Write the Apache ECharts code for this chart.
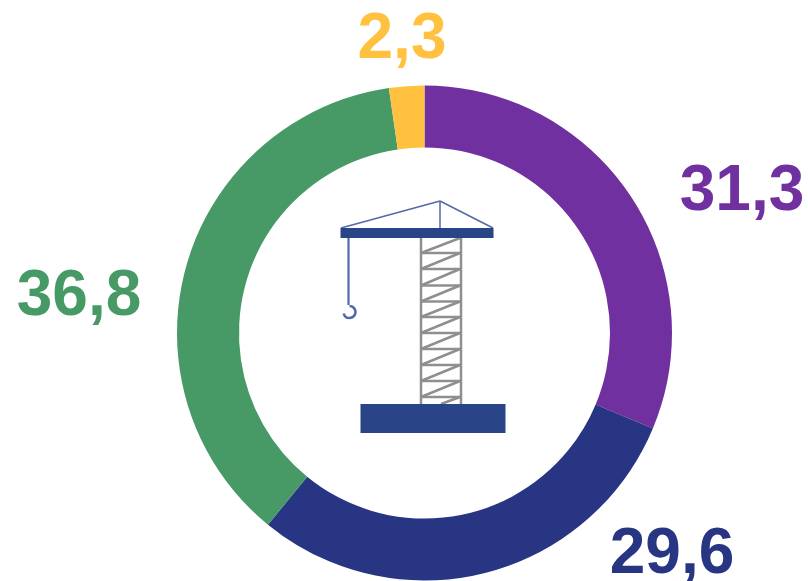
<!DOCTYPE html>
<html>
<head>
    <meta charset="utf-8">
    <title>Donut</title>
    <style>
        html, body { margin: 0; padding: 0; background: #fff; }
        #chart { width: 808px; height: 581px; }
    </style>
</head>
<body>
    <div id="chart"></div>
    <script src="https://cdn.jsdelivr.net/npm/echarts@6/dist/echarts.min.js"></script>
    <script type="text/javascript">
        var sliceValues = [31.3, 29.6, 36.8, 2.3];
        var sliceLabels = ['31,3', '29,6', '36,8', '2,3'];
        var sliceColors = ['#70309f', '#283583', '#479a66', '#ffc13f'];
        var labelCentres = [[742, 192], [672, 555], [79, 297], [402, 40]];

        var craneBlue = '#2a4488';
        var craneLine = '#5468a6';
        var towerGrey = '#8f8f8f';

        function line(x1, y1, x2, y2, color, width) {
            return {
                type: 'line',
                silent: true,
                shape: { x1: x1, y1: y1, x2: x2, y2: y2 },
                style: { stroke: color, lineWidth: width }
            };
        }
        function rect(x, y, w, h) {
            return {
                type: 'rect',
                silent: true,
                shape: { x: x, y: y, width: w, height: h },
                style: { fill: craneBlue }
            };
        }

        // crane drawing in the hole of the ring
        var crane = [
            line(341, 228, 440, 201, craneLine, 1.5),
            line(440, 201, 493, 228, craneLine, 1.5),
            line(440, 201, 440, 228, craneLine, 1.5),
            line(348.5, 237, 348.5, 305, craneLine, 2.2),
            {
                type: 'arc',
                silent: true,
                shape: { cx: 349.5, cy: 312, r: 6, startAngle: -Math.PI / 2, endAngle: 2.9, clockwise: true },
                style: { stroke: craneLine, lineWidth: 2.5, fill: null }
            },
            line(421, 237, 421, 404, towerGrey, 2.5),
            line(461, 237, 461, 404, towerGrey, 2.5)
        ];
        var rungs = [253, 269, 285.5, 301.5, 317, 333, 349, 365, 381, 397];
        var prev = 238;
        rungs.forEach(function (y) {
            crane.push(line(421, y, 461, y, towerGrey, 2.5));
            crane.push(line(421, y, 460, prev, towerGrey, 2.5));
            prev = y;
        });
        crane.push(line(441, 404, 460, 397, towerGrey, 2.5));
        crane.push(rect(340.5, 228, 153, 10));
        crane.push(rect(360.5, 404, 145, 29));

        var chart = echarts.init(document.getElementById('chart'));
        chart.setOption({
            animation: false,
            graphic: { elements: crane },
            series: [{
                type: 'pie',
                center: [424.5, 333],
                radius: [185.5, 247.5],
                startAngle: 90,
                silent: true,
                labelLine: { show: false },
                label: {
                    show: true,
                    position: 'outside',
                    overflow: 'none',
                    fontFamily: '"Liberation Sans", Arial, sans-serif',
                    fontWeight: 'bold',
                    fontSize: 64,
                    formatter: function (p) { return sliceLabels[p.dataIndex]; }
                },
                labelLayout: function (p) {
                    return {
                        x: labelCentres[p.dataIndex][0],
                        y: labelCentres[p.dataIndex][1],
                        align: 'center',
                        verticalAlign: 'middle',
                        hideOverlap: false
                    };
                },
                data: sliceValues.map(function (v, i) {
                    return {
                        value: v,
                        itemStyle: { color: sliceColors[i] },
                        label: { color: sliceColors[i] }
                    };
                })
            }]
        });
    </script>
</body>
</html>
